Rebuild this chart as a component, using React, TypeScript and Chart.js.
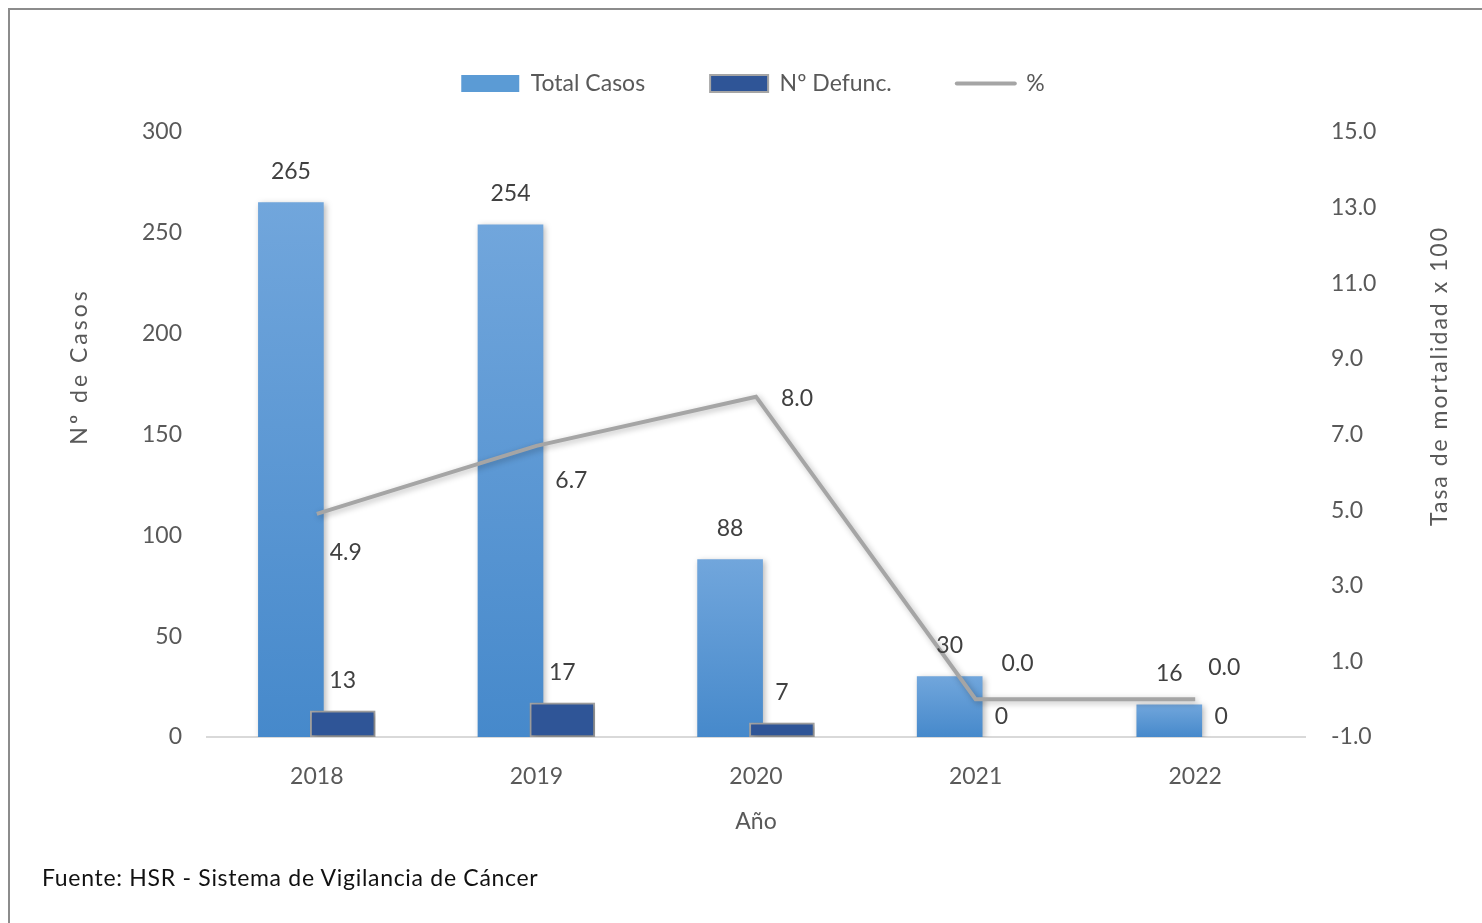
import React, { useEffect, useRef } from 'react';
import { Chart, registerables } from 'chart.js';

Chart.register(...registerables);

const years = ['2018', '2019', '2020', '2021', '2022'];
const totalCasos = [265, 254, 88, 30, 16];
const defunciones = [13, 17, 7, 0, 0];
const porcentaje = [4.9, 6.7, 8.0, 0.0, 0.0];
const leftAxis = { min: 0, max: 300, step: 50 };
const rightAxis = { min: -1, max: 15, step: 2 };
const seriesNames = ['Total Casos', 'Nº Defunc.', '%'];

const FONT = 'Lato, "Open Sans", sans-serif';
const TEXT = '#595959';
const LABEL = '#404040';
const BAR_SHIFT = 0.118;
const PCT_LABEL_OFFSETS = [
  [29, 39],
  [35, 35],
  [41, 2],
  [42, -36],
  [29, -32],
];

const shadowPlugin = {
  id: 'softShadow',
  beforeDatasetDraw(chart: any) {
    const ctx = chart.ctx;
    ctx.save();
    ctx.shadowColor = 'rgba(0,0,0,0.28)';
    ctx.shadowBlur = 6;
    ctx.shadowOffsetX = 2;
    ctx.shadowOffsetY = 2;
  },
  afterDatasetDraw(chart: any) {
    chart.ctx.restore();
  },
};

const labelPlugin = {
  id: 'valueLabels',
  afterDatasetsDraw(chart: any) {
    const ctx = chart.ctx;
    ctx.save();
    ctx.font = `23px ${FONT}`;
    ctx.fillStyle = LABEL;
    ctx.textAlign = 'center';
    ctx.textBaseline = 'middle';
    const m0 = chart.getDatasetMeta(0);
    m0.data.forEach((el: any, i: number) => {
      ctx.fillText(String(totalCasos[i]), el.x, el.y - 31);
    });
    const m1 = chart.getDatasetMeta(1);
    m1.data.forEach((el: any, i: number) => {
      const dy = defunciones[i] === 0 ? 20 : 30;
      ctx.fillText(String(defunciones[i]), el.x, el.y - dy);
    });
    const m2 = chart.getDatasetMeta(2);
    m2.data.forEach((el: any, i: number) => {
      const [dx, dy] = PCT_LABEL_OFFSETS[i];
      ctx.fillText(porcentaje[i].toFixed(1), el.x + dx, el.y + dy);
    });
    ctx.restore();
  },
  afterDraw(chart: any) {
    const ctx = chart.ctx;
    const drawRot = (text: string, x: number, y: number, spacing: number) => {
      ctx.save();
      ctx.font = `23px ${FONT}`;
      ctx.fillStyle = TEXT;
      ctx.textAlign = 'center';
      ctx.textBaseline = 'middle';
      (ctx as any).letterSpacing = `${spacing}px`;
      ctx.translate(x, y);
      ctx.rotate(-Math.PI / 2);
      ctx.fillText(text, spacing / 2, 0);
      ctx.restore();
    };
    drawRot('Nº de Casos', 80, 368, 3);
    drawRot('Tasa de mortalidad x 100', 1440, 377, 2);
  },
};

export default function App() {
  const ref = useRef<HTMLCanvasElement | null>(null);

  useEffect(() => {
    if (!ref.current) return;
    const font = { family: FONT, size: 23 };
    const chart = new Chart(ref.current, {
      type: 'bar',
      data: {
        datasets: [
          {
            type: 'bar',
            label: seriesNames[0],
            data: totalCasos.map((v, i) => ({ x: i - BAR_SHIFT, y: v })),
            yAxisID: 'y',
            order: 2,
            grouped: false,
            barThickness: 65,
            borderWidth: 0,
            backgroundColor: (c: any) => {
              const chart = c.chart;
              const ys = chart.scales?.y;
              if (c.type !== 'data' || !ys || !c.parsed) return '#5B9BD5';
              const top = ys.getPixelForValue(c.parsed.y);
              const base = ys.getPixelForValue(0);
              if (!isFinite(top) || !isFinite(base) || top === base) return '#71A6DC';
              const g = chart.ctx.createLinearGradient(0, top, 0, base);
              g.addColorStop(0, '#71A6DC');
              g.addColorStop(1, '#4689CB');
              return g;
            },
          } as any,
          {
            type: 'bar',
            label: seriesNames[1],
            data: defunciones.map((v, i) => ({ x: i + BAR_SHIFT, y: v })),
            yAxisID: 'y',
            order: 1,
            grouped: false,
            barThickness: 65,
            backgroundColor: '#2F5597',
            borderColor: '#A5A5A5',
            borderWidth: 2,
            borderSkipped: false,
          } as any,
          {
            type: 'line',
            label: seriesNames[2],
            data: porcentaje.map((v, i) => ({ x: i, y: v })),
            yAxisID: 'y1',
            order: 0,
            borderColor: '#A5A5A5',
            backgroundColor: '#A5A5A5',
            borderWidth: 4,
            pointRadius: 0,
            tension: 0,
            fill: false,
          } as any,
        ],
      },
      options: {
        animation: false,
        responsive: false,
        devicePixelRatio: 1,
        events: [],
        layout: { padding: { top: 7, bottom: 66, left: 24, right: 0 } },
        plugins: {
          tooltip: { enabled: false },
          title: {
            display: true,
            text: '',
            weight: 500,
            font: { size: 1, lineHeight: 1 },
            padding: { top: 26, bottom: 0 },
          },
          legend: {
            position: 'top',
            maxHeight: 123,
            labels: {
              font,
              color: TEXT,
              usePointStyle: true,
              pointStyleWidth: 58,
              boxWidth: 58,
              boxHeight: 17,
              padding: 65,
              generateLabels: (ch: any) =>
                ch.data.datasets.map((ds: any, i: number) => ({
                  text: ds.label,
                  datasetIndex: i,
                  hidden: false,
                  fontColor: TEXT,
                  fillStyle: i === 0 ? '#5B9BD5' : i === 1 ? '#2F5597' : '#A5A5A5',
                  strokeStyle: i === 0 ? 'rgba(0,0,0,0)' : '#A5A5A5',
                  lineWidth: i === 0 ? 0 : i === 1 ? 2 : 4,
                  lineCap: i === 2 ? 'round' : 'butt',
                  pointStyle: i === 2 ? 'line' : 'rect',
                })),
            },
          },
        },
        scales: {
          x: {
            type: 'linear',
            min: -0.5,
            max: years.length - 0.5,
            offset: false,
            grid: { display: false },
            border: { display: true, color: '#D9D9D9', width: 2 },
            afterBuildTicks: (s: any) => {
              s.ticks = years.map((_, i) => ({ value: i }));
            },
            afterFit: (s: any) => {
              s.height = 120;
            },
            ticks: {
              callback: (v: any) => years[v] ?? '',
              font,
              color: TEXT,
              padding: 18,
              autoSkip: false,
              maxRotation: 0,
            },
            title: {
              display: true,
              text: 'Año',
              font,
              color: TEXT,
              padding: { top: 0, bottom: 22 },
            },
          },
          y: {
            position: 'left',
            min: leftAxis.min,
            max: leftAxis.max,
            grid: { display: false },
            border: { display: false },
            afterFit: (s: any) => {
              s.width = 183;
            },
            ticks: { stepSize: leftAxis.step, font, color: TEXT, padding: 17 },
          },
          y1: {
            position: 'right',
            min: rightAxis.min,
            max: rightAxis.max,
            grid: { display: false },
            border: { display: false },
            afterFit: (s: any) => {
              s.width = 177;
            },
            ticks: {
              stepSize: rightAxis.step,
              font,
              color: TEXT,
              padding: 18,
              callback: (v: any) => Number(v).toFixed(1),
            },
          },
        },
      } as any,
      plugins: [shadowPlugin, labelPlugin],
    });
    return () => chart.destroy();
  }, []);

  return (
    <div>
      <div
        style={{
          position: 'fixed',
          left: 8,
          top: 8,
          width: 1474,
          height: 915,
          borderTop: '2px solid #8C8C8C',
          borderLeft: '2px solid #8C8C8C',
          boxSizing: 'border-box',
          background: '#fff',
        }}
      />
      <canvas
        ref={ref}
        width={1482}
        height={923}
        style={{ position: 'fixed', left: 0, top: 0, width: 1482, height: 923 }}
      />
      <div
        style={{
          position: 'fixed',
          left: 42,
          top: 864,
          fontFamily: FONT,
          fontSize: 23,
          lineHeight: '26px',
          letterSpacing: '0.7px',
          color: '#111',
          whiteSpace: 'nowrap',
        }}
      >
        Fuente: HSR - Sistema de Vigilancia de Cáncer
      </div>
    </div>
  );
}
